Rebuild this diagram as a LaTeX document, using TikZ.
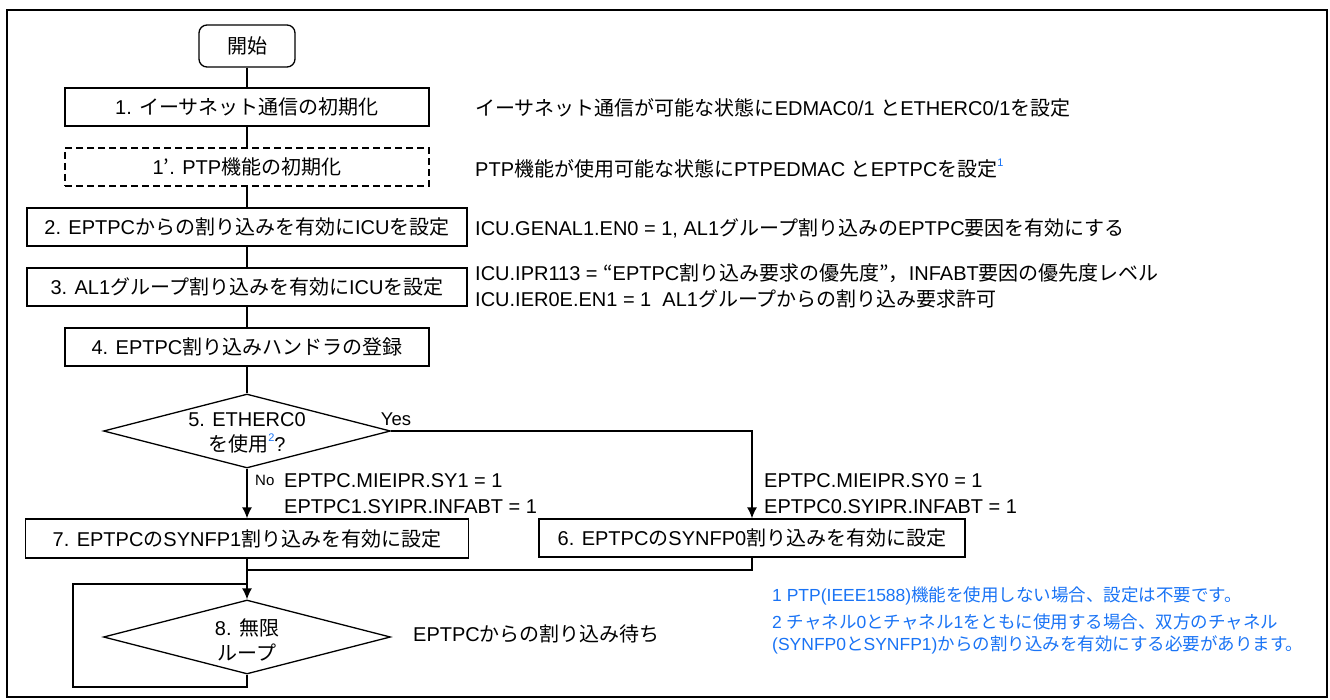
\documentclass[tikz,border=0pt]{standalone}
\usepackage{fontspec}
\setmainfont{Liberation Sans}
\newfontfamily\latinfont{Liberation Sans}
\newfontfamily\cjkfont{Noto Sans CJK JP}
\usetikzlibrary{shapes.geometric,arrows.meta}
\newXeTeXintercharclass\CJKcls
\newcount\cjkc
\def\cjkrange#1#2{\cjkc=#1\relax\loop\XeTeXcharclass\cjkc=\CJKcls\relax\ifnum\cjkc<#2\advance\cjkc by 1\repeat}
\cjkrange{"3000}{"30FF}
\cjkrange{"4E00}{"9FFF}
\cjkrange{"FF00}{"FFEF}
\XeTeXcharclass"2019=\CJKcls
\XeTeXcharclass"201C=\CJKcls
\XeTeXcharclass"201D=\CJKcls
\XeTeXinterchartoks 0 \CJKcls = {\cjkfont}
\XeTeXinterchartoks 4095 \CJKcls = {\cjkfont}
\XeTeXinterchartoks \CJKcls 0 = {\latinfont}
\XeTeXinterchartoks 4095 0 = {\latinfont}
\XeTeXinterchartokenstate=1
\definecolor{fnblue}{RGB}{25,115,245}
\newcommand\fnmark[1]{\textcolor{fnblue}{\raisebox{0.5em}{\fontsize{11}{11}\selectfont #1}}}
\tikzset{
 box/.style={draw,line width=1.3pt,minimum height=38pt,inner sep=0pt,font=\fontsize{20}{26}\selectfont},
 dashbox/.style={box,dash pattern=on 7pt off 4pt},
 dia/.style={draw,diamond,line width=1.3pt,inner sep=0pt,minimum width=287pt,minimum height=74pt},
 txt/.style={inner sep=0pt,anchor=west,font=\fontsize{20}{26}\selectfont,align=left},
 ctxt/.style={inner sep=0pt,font=\fontsize{20}{25}\selectfont,align=center},
 fn/.style={inner sep=0pt,anchor=west,text=fnblue,font=\fontsize{17.5}{22}\selectfont,align=left},
 lab/.style={inner sep=0pt,font=\fontsize{18.5}{18.5}\selectfont},
 conn/.style={line width=1.3pt},
 arr/.style={conn,-{Latex[length=11pt,width=10pt]}},
}
\begin{document}
\begin{tikzpicture}[x=1pt,y=-1pt]
\useasboundingbox (0,0) rectangle (1330,700);
\draw[line width=2pt] (7,10) rectangle (1327,697);
% flow nodes
\node[box,rounded corners=8pt,minimum width=96pt,minimum height=42pt] (start) at (247,46) {開始};
\node[box,minimum width=364pt] (b1) at (247,107) {1. イーサネット通信の初期化};
\node[dashbox,minimum width=364pt] (b1p) at (247,167) {1’. PTP機能の初期化};
\node[box,minimum width=440pt] (b2) at (247,227) {2. EPTPCからの割り込みを有効にICUを設定};
\node[box,minimum width=440pt] (b3) at (247,287) {3. AL1グループ割り込みを有効にICUを設定};
\node[box,minimum width=364pt] (b4) at (247,347) {4. EPTPC割り込みハンドラの登録};
\node[dia] (d5) at (247,431) {};
\node[ctxt] (d5t) at (247,433) {5. ETHERC0\\を使用\fnmark{2}?};
\node[box,minimum width=443pt,minimum height=39pt] (b7) at (247,538.5) {7. EPTPCのSYNFP1割り込みを有効に設定};
\node[box,minimum width=426pt] (b6) at (752,538) {6. EPTPCのSYNFP0割り込みを有効に設定};
\node[dia] (d8) at (247,637) {};
\node[ctxt] (d8t) at (247,640) {8. 無限\\ループ};
% labels
\node[lab] (yes) at (396,419) {Yes};
\node[lab,anchor=west,font=\fontsize{15}{15}\selectfont] (no) at (255,480) {No};
% side texts
\node[txt] (t1) at (475,108) {イーサネット通信が可能な状態にEDMAC0/1 とETHERC0/1を設定};
\node[txt] (t2) at (475,169) {PTP機能が使用可能な状態にPTPEDMAC とEPTPCを設定\fnmark{1}};
\node[txt] (t3) at (475,228) {ICU.GENAL1.EN0 = 1, AL1グループ割り込みのEPTPC要因を有効にする};
\node[txt] (t4) at (475,286) {ICU.IPR113 = “EPTPC割り込み要求の優先度”，INFABT要因の優先度レベル\\ICU.IER0E.EN1 = 1\ \ AL1グループからの割り込み要求許可};
\node[txt] (s1) at (284,481) {EPTPC.MIEIPR.SY1 = 1};
\node[txt] (s1b) at (284,507) {EPTPC1.SYIPR.INFABT = 1};
\node[txt] (s0) at (764,481) {EPTPC.MIEIPR.SY0 = 1};
\node[txt] (s0b) at (764,507) {EPTPC0.SYIPR.INFABT = 1};
\node[txt] (wait) at (413,634) {EPTPCからの割り込み待ち};
\node[fn] (fn1) at (772,596) {1 PTP(IEEE1588)機能を使用しない場合、設定は不要です。};
\node[fn] (fn2) at (772,634) {2 チャネル0とチャネル1をともに使用する場合、双方のチャネル\\(SYNFP0とSYNFP1)からの割り込みを有効にする必要があります。};
% connectors
\draw[conn] (start) -- (b1);
\draw[conn] (b1) -- (b1p);
\draw[conn] (b1p) -- (b2);
\draw[conn] (b2) -- (b3);
\draw[conn] (b3) -- (b4);
\draw[conn] (b4) -- (d5.north);
\draw[arr] (d5.east) -| (b6.north);
\draw[arr] (d5.south) -- (b7.north);
\coordinate (m) at (247,570);
\draw[conn] (b6.south) |- (m);
\draw[arr] (b7.south) -- (d8.north);
\coordinate (lb) at (247,687);
\coordinate (ll) at (73,687);
\coordinate (lt) at (73,584);
\coordinate (lj) at (247,584);
\draw[conn] (d8.south) -- (lb) -- (ll) -- (lt) -- (lj);
\end{tikzpicture}
\end{document}
